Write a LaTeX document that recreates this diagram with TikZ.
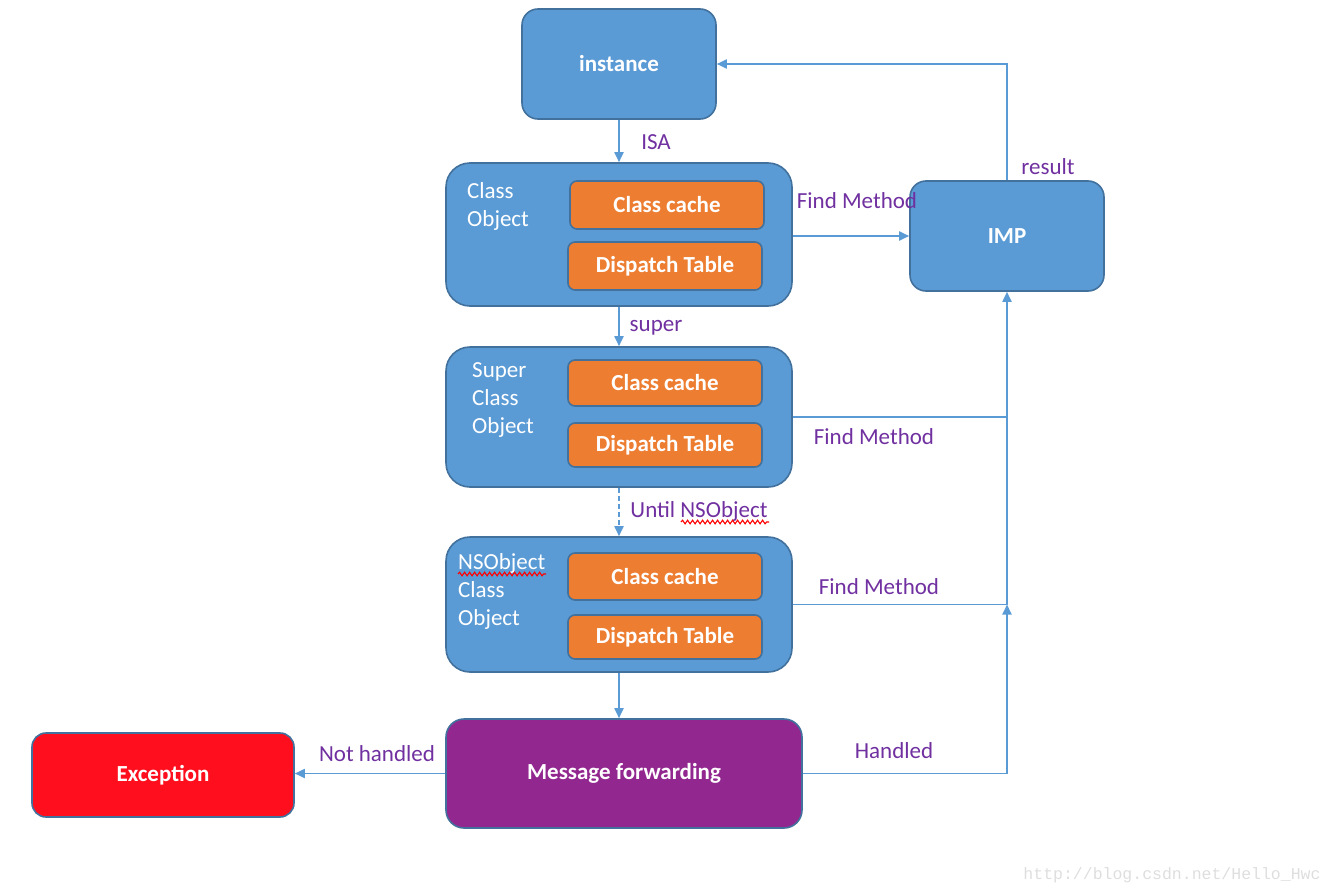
\documentclass[tikz,border=0pt]{standalone}
\usepackage{fontspec}
\setmainfont{Carlito}
\newfontfamily\wmfont{Liberation Mono}
\usetikzlibrary{arrows.meta,decorations.pathmorphing}
\definecolor{boxblue}{RGB}{91,155,213}
\definecolor{edgeblue}{RGB}{65,113,156}
\definecolor{boxorange}{RGB}{237,125,49}
\definecolor{boxpurple}{RGB}{146,39,143}
\definecolor{boxred}{RGB}{255,15,30}
\definecolor{labelpurple}{RGB}{112,48,160}
\definecolor{linkblue}{RGB}{91,155,213}
\definecolor{wmgray}{RGB}{222,222,222}
\begin{document}
\begin{tikzpicture}[x=1pt,y=-1pt,
  txt/.style={font=\fontsize{23}{28}\selectfont},
  box/.style={font=\fontsize{23}{28}\selectfont\bfseries, draw=edgeblue, line width=1.6pt,
    fill=boxblue, text=white, rounded corners=16pt, inner sep=0pt},
  bigbox/.style={box, rounded corners=24pt},
  cell/.style={box, fill=boxorange, rounded corners=7pt, minimum width=194pt},
  side/.style={txt, text=white, align=left, anchor=west, inner sep=0pt},
  lbl/.style={txt, text=labelpurple, inner sep=0pt},
  link/.style={draw=linkblue, line width=1.8pt},
  conn/.style={link, -{Triangle[length=10pt,width=9pt]}},
  squiggle/.style={draw=red, line width=1.1pt,
    decorate, decoration={snake, segment length=5pt, amplitude=1.8pt}}
]
\useasboundingbox (0,0) rectangle (1334,894);

% main boxes
\node[box, minimum width=194pt, minimum height=110pt] (instance) at (619,64) {instance};
\node[bigbox, minimum width=346pt, minimum height=143pt] (cls) at (619,234.5) {};
\node[box, minimum width=194pt, minimum height=110pt] (imp) at (1007,236) {IMP};
\node[bigbox, minimum width=346pt, minimum height=140pt] (sup) at (619,417) {};
\node[bigbox, minimum width=346pt, minimum height=135pt] (nso) at (619,604.5) {};
\node[box, fill=boxpurple, rounded corners=18pt, minimum width=356pt, minimum height=109pt] (msg) at (624,773.5) {Message forwarding};
\node[box, fill=boxred, rounded corners=14pt, minimum width=262pt, minimum height=84pt] (exc) at (163,775) {Exception};

% contents of the class objects
\node[side] (clsname) at (467,206) {Class\\Object};
\node[cell, minimum height=48pt] (cc1) at (667,205) {Class cache};
\node[cell, minimum height=48pt] (dt1) at (665,266) {Dispatch Table};

\node[side] (supname) at (472,400) {Super\\Class\\Object};
\node[cell, minimum height=46pt] (cc2) at (665,383) {Class cache};
\node[cell, minimum height=44pt] (dt2) at (665,445) {Dispatch Table};

\node[side] (nsoname) at (458,591) {NSObject\\Class\\Object};
\node[cell, minimum height=47pt] (cc3) at (665,576.5) {Class cache};
\node[cell, minimum height=44pt] (dt3) at (665,637) {Dispatch Table};

% connectors
\draw[conn] (instance.south) -- (cls.north);
\draw[conn] (cls.south) -- (sup.north);
\draw[conn, dashed, dash pattern=on 5pt off 3pt] (sup.south) -- (nso.north);
\draw[conn] (nso.south) -- (nso.south |- msg.north);
\draw[conn] (cls.east |- imp.west) -- (imp.west);
\draw[conn] (imp.north) |- (instance.east);
\coordinate (jsup) at (sup.east -| imp.south);
\coordinate (jnso) at (nso.east -| imp.south);
\draw[link] (sup.east) -- (jsup);
\draw[conn] (nso.east) -- (jnso) -- (imp.south);
\draw[conn] (msg.east) -| (jnso);
\draw[conn] (msg.west) -- (msg.west -| exc.east);

% connector labels
\node[lbl] (lisa) at (656,142) {ISA};
\node[lbl] (lsuper) at (656,328) {super};
\node[lbl] (luntil) at (699,511) {Until NSObject};
\node[lbl] (lfind1) at (857,201) {Find Method};
\node[lbl] (lfind2) at (874,437) {Find Method};
\node[lbl] (lfind3) at (879,587) {Find Method};
\node[lbl] (lresult) at (1048,167) {result};
\node[lbl] (lhandled) at (894,751) {Handled};
\node[lbl] (lnot) at (377,754) {Not handled};

% spell-check underlines
\draw[squiggle] (681,522) -- (769,522);
\draw[squiggle] (458,574) -- (546,574);

% watermark
\node[text=wmgray, font=\wmfont\fontsize{16.5}{18}\selectfont, inner sep=0pt] (wm) at (1172,875) {http://blog.csdn.net/Hello\_Hwc};
\end{tikzpicture}
\end{document}
